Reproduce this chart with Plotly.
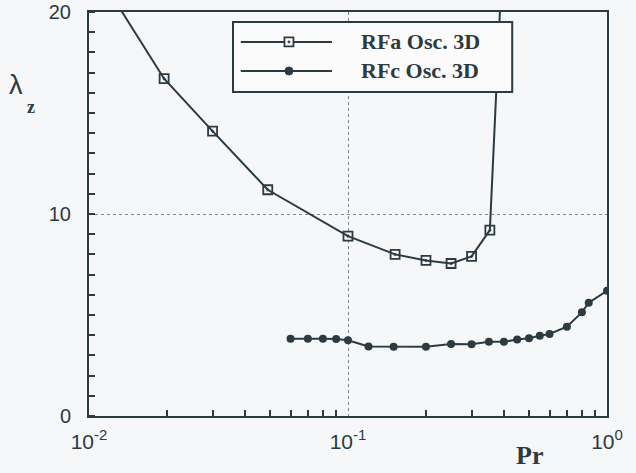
import plotly.graph_objects as go

# RFa Osc. 3D (open squares)
rfa_pr = [0.01, 0.0195, 0.03, 0.049, 0.1, 0.152, 0.2, 0.25, 0.3, 0.353, 0.4]
rfa_lz = [22.6, 16.7, 14.1, 11.2, 8.9, 8.0, 7.7, 7.55, 7.9, 9.2, 24.3]

# RFc Osc. 3D (filled dots)
rfc_pr = [0.06, 0.07, 0.08, 0.09, 0.1, 0.12, 0.15, 0.2, 0.25, 0.3, 0.35, 0.4,
          0.45, 0.5, 0.55, 0.6, 0.7, 0.8, 0.85, 1.0]
rfc_lz = [3.82, 3.83, 3.82, 3.81, 3.75, 3.44, 3.43, 3.43, 3.56, 3.55, 3.68, 3.67,
          3.79, 3.85, 3.97, 4.06, 4.42, 5.13, 5.61, 6.2]

series_names = ["RFa Osc. 3D", "RFc Osc. 3D"]

x_tickvals = [0.01, 0.1, 1]
x_exponents = ["-2", "-1", "0"]
x_ticktext = [f"10<sup><span style='font-size:15px'>{e}</span></sup>" for e in x_exponents]
x_minor = [m * d for d in (0.01, 0.1) for m in range(2, 10)]
y_tickvals = [0, 10, 20]

ink = "#2c3a42"
bg = "#f6f7f9"
serif = "Liberation Serif, Times New Roman, serif"

fig = go.Figure()
fig.add_trace(go.Scatter(
    x=rfa_pr, y=rfa_lz, mode="lines+markers", name=series_names[0],
    line=dict(color=ink, width=2),
    marker=dict(symbol="square-open-dot", size=9, color=ink, line=dict(width=1.8, color=ink)),
))
fig.add_trace(go.Scatter(
    x=rfc_pr, y=rfc_lz, mode="lines+markers", name=series_names[1],
    line=dict(color=ink, width=2),
    marker=dict(symbol="circle", size=8, color=ink),
))

# hand-drawn legend box (paper coordinates)
leg_x0, leg_x1, leg_y0, leg_y1 = 0.278, 0.817, 0.802, 0.975
row_y = [0.926, 0.854]
line_x0, line_x1, mark_x, text_x = 0.293, 0.469, 0.386, 0.522

shapes = [dict(type="rect", xref="paper", yref="paper", x0=leg_x0, x1=leg_x1,
               y0=leg_y0, y1=leg_y1, fillcolor="#fbfbfc",
               line=dict(color=ink, width=2), layer="above")]
for ry in row_y:
    shapes.append(dict(type="line", xref="paper", yref="paper", x0=line_x0, x1=line_x1,
                       y0=ry, y1=ry, line=dict(color=ink, width=2), layer="above"))
shapes.append(dict(type="rect", xref="paper", yref="paper", xsizemode="pixel", ysizemode="pixel",
                   xanchor=mark_x, yanchor=row_y[0], x0=-4.5, x1=4.5, y0=-4.5, y1=4.5,
                   fillcolor="#fbfbfc", line=dict(color=ink, width=1.8), layer="above"))
shapes.append(dict(type="circle", xref="paper", yref="paper", xsizemode="pixel", ysizemode="pixel",
                   xanchor=mark_x, yanchor=row_y[0], x0=-1, x1=1, y0=-1, y1=1,
                   fillcolor=ink, line=dict(color=ink, width=1), layer="above"))
shapes.append(dict(type="circle", xref="paper", yref="paper", xsizemode="pixel", ysizemode="pixel",
                   xanchor=mark_x, yanchor=row_y[1], x0=-4, x1=4, y0=-4, y1=4,
                   fillcolor=ink, line=dict(color=ink, width=1), layer="above"))

annotations = [
    dict(text=f"<b>{name}</b>", x=text_x, y=ry, xref="paper", yref="paper",
         xanchor="left", yanchor="middle", showarrow=False,
         font=dict(family=serif, size=22, color=ink))
    for name, ry in zip(series_names, row_y)
]
annotations += [
    dict(text="λ", x=-0.141, y=0.819, xref="paper", yref="paper",
         xanchor="center", yanchor="middle",
         showarrow=False, font=dict(family="Liberation Sans, Arial", size=27, color=ink)),
    dict(text="<b>z</b>", x=-0.112, y=0.765, xref="paper", yref="paper",
         xanchor="center", yanchor="middle",
         showarrow=False, font=dict(family=serif, size=18, color=ink)),
    dict(text="<b>Pr</b>", x=0.851, y=-0.099, xref="paper", yref="paper",
         xanchor="center", yanchor="middle",
         showarrow=False, font=dict(family=serif, size=26, color=ink)),
]

fig.update_layout(
    width=636, height=473,
    margin=dict(l=89, r=29, t=12, b=57, autoexpand=False),
    paper_bgcolor=bg, plot_bgcolor=bg,
    font=dict(family="Liberation Sans, Arial, sans-serif", size=19, color=ink),
    showlegend=False,
    shapes=shapes,
    annotations=annotations,
    xaxis=dict(
        type="log", range=[-2, 0], automargin=False,
        tickmode="array", tickvals=x_tickvals, ticktext=x_ticktext,
        tickfont=dict(size=21),
        ticks="", ticklabelstandoff=6,
        showline=True, linewidth=2, linecolor=ink, mirror=True,
        showgrid=True, gridcolor="#7d8890", gridwidth=1, griddash="dot",
        zeroline=False,
        minor=dict(tickmode="array", tickvals=x_minor, ticks="inside", ticklen=6,
                   tickwidth=2, tickcolor=ink, showgrid=False),
    ),
    yaxis=dict(
        range=[0, 20], automargin=False,
        tickmode="array", tickvals=y_tickvals,
        tickfont=dict(size=20),
        ticks="", ticklabelstandoff=12,
        showline=True, linewidth=2, linecolor=ink, mirror=True,
        showgrid=True, gridcolor="#7d8890", gridwidth=1, griddash="dot",
        zeroline=False,
        minor=dict(dtick=1, ticks="inside", ticklen=6, tickwidth=2,
                   tickcolor=ink, showgrid=False),
    ),
)

fig.write_html(
    "out.html",
    config={"displayModeBar": False},
    post_script=f"document.body.style.margin='0px';document.body.style.background='{bg}';",
)
